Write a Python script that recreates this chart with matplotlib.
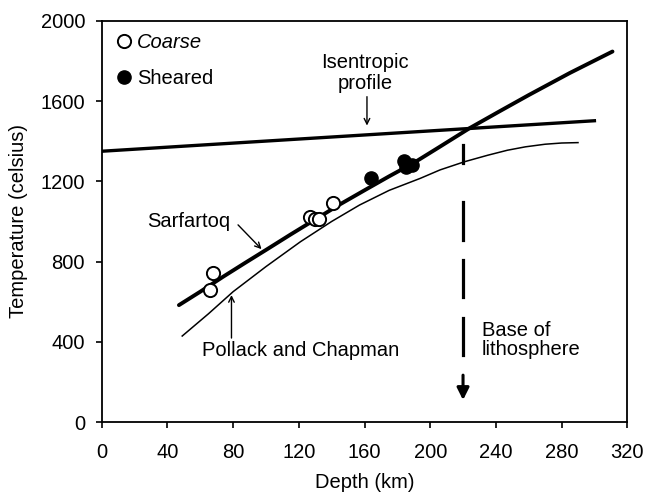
import matplotlib.pyplot as plt

plt.rcParams['font.family'] = ['Liberation Sans', 'DejaVu Sans']

# Xenolith P-T estimates
coarse_depth = [66, 68, 127, 130, 132, 141]
coarse_temp = [658, 741, 1020, 1012, 1010, 1091]
sheared_depth = [164, 184, 185, 189]
sheared_temp = [1215, 1300, 1272, 1282]

# Geotherms
sarfartoq_depth = [47, 60, 74, 87, 100, 115, 130, 145, 161, 175, 190, 205, 224, 242, 260, 285, 311]
sarfartoq_temp = [583, 650, 725, 792, 858, 935, 1010, 1085, 1160, 1225, 1292, 1368, 1465, 1548, 1630, 1740, 1847]
isentropic_depth = [0, 300]
isentropic_temp = [1350, 1502]
pollack_depth = [49, 65, 80, 100, 121, 140, 157, 175, 194, 206, 221, 235, 247, 258, 270, 280, 290]
pollack_temp = [429, 540, 650, 775, 899, 1000, 1082, 1155, 1215, 1257, 1298, 1330, 1355, 1372, 1385, 1391, 1393]

# Base of lithosphere marker (dashed arrow)
base_depth = 220
base_dashes = [(1292, 1382), (908, 1099), (625, 808), (334, 517)]

fs = 14.5

fig = plt.figure(figsize=(6.48, 4.96), dpi=100)
ax = fig.add_axes([0.157, 0.149, 0.811, 0.809])

ax.plot(isentropic_depth, isentropic_temp, color='black', lw=2.4)
ax.plot(sarfartoq_depth, sarfartoq_temp, color='black', lw=2.8, solid_capstyle='round')
ax.plot(pollack_depth, pollack_temp, color='black', lw=1.1)

ax.plot(coarse_depth, coarse_temp, 'o', ms=9.5, mfc='white', mec='black', mew=1.4,
        linestyle='none', label='Coarse')
ax.plot(sheared_depth, sheared_temp, 'o', ms=9.5, mfc='black', mec='black',
        linestyle='none', label='Sheared')

for lo, hi in base_dashes:
    ax.plot([base_depth, base_depth], [lo, hi], color='black', lw=2.3)
ax.annotate('', xy=(base_depth, 110), xytext=(base_depth, 234),
            arrowprops=dict(arrowstyle='-|>', color='black', lw=2.2, mutation_scale=18,
                            shrinkA=0, shrinkB=0))

ax.text(160.5, 1740, 'Isentropic\nprofile', ha='center', va='center', fontsize=fs,
        linespacing=1.15)
ax.annotate('', xy=(161.5, 1478), xytext=(161.5, 1622),
            arrowprops=dict(arrowstyle='->', color='black', lw=1.0, shrinkA=0, shrinkB=0))

ax.text(78, 1000, 'Sarfartoq', ha='right', va='center', fontsize=fs)
ax.annotate('', xy=(97.3, 862), xytext=(83, 983),
            arrowprops=dict(arrowstyle='->', color='black', lw=1.0, shrinkA=0, shrinkB=0))

ax.text(61, 359, 'Pollack and Chapman', ha='left', va='center', fontsize=fs)
ax.annotate('', xy=(79, 633), xytext=(79, 419),
            arrowprops=dict(arrowstyle='->', color='black', lw=1.0, shrinkA=0, shrinkB=0))

ax.text(231.5, 409, 'Base of\nlithosphere', ha='left', va='center', fontsize=fs,
        linespacing=1.05)

leg = ax.legend(loc='upper left', frameon=False, fontsize=fs, handletextpad=0.15,
                borderaxespad=0.2, labelspacing=0.85, handlelength=1.0)
leg.get_texts()[0].set_style('italic')

ax.set_xlim(0, 320)
ax.set_ylim(0, 2000)
ax.set_xticks(range(0, 321, 40))
ax.set_yticks(range(0, 2001, 400))
ax.tick_params(direction='out', length=4, width=1.2, labelsize=fs, top=False, right=False)
ax.tick_params(axis='x', pad=11)
ax.tick_params(axis='y', pad=8)
for s in ax.spines.values():
    s.set_linewidth(1.3)

ax.set_xlabel('Depth (km)', fontsize=fs, labelpad=8)
ax.set_ylabel('Temperature (celsius)', fontsize=fs, labelpad=9)

fig.savefig('out.png', dpi=100)
